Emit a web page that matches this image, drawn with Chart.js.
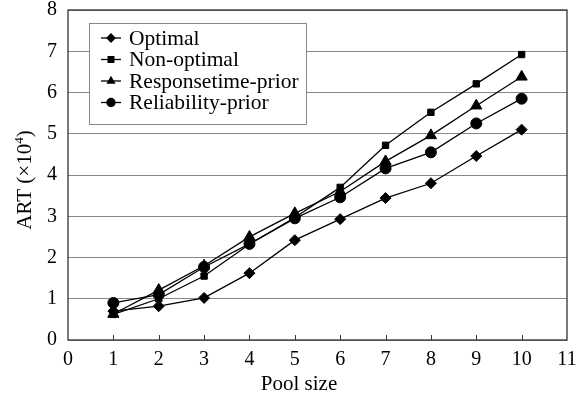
<!DOCTYPE html>
<html>
<head>
<meta charset="utf-8">
<script src="https://cdn.jsdelivr.net/npm/chart.js@4/dist/chart.umd.min.js"></script>
<style>
  html, body { margin: 0; padding: 0; background: #fff; }
  #wrap { width: 578px; height: 398px; }
</style>
</head>
<body>
<div id="wrap"><canvas id="chart"></canvas></div>
<script>
// values (ART in units of 10^4)
const poolSizes = [1, 2, 3, 4, 5, 6, 7, 8, 9, 10];
const optimal = [0.70, 0.82, 1.02, 1.62, 2.42, 2.93, 3.44, 3.80, 4.46, 5.10];
const nonOptimal = [0.62, 1.00, 1.55, 2.32, 2.97, 3.70, 4.72, 5.52, 6.21, 6.92];
const responsePrior = [0.63, 1.21, 1.80, 2.50, 3.07, 3.60, 4.33, 4.96, 5.68, 6.38];
const reliabilityPrior = [0.90, 1.10, 1.77, 2.33, 2.95, 3.46, 4.16, 4.55, 5.25, 5.85];
const seriesNames = ['Optimal', 'Non-optimal', 'Responsetime-prior', 'Reliability-prior'];
const yTicks = [0, 1, 2, 3, 4, 5, 6, 7, 8];

const SERIF = '"Liberation Serif", "DejaVu Serif", serif';

function series(name, values, style, radius) {
    return {
        label: name,
        data: poolSizes.map((x, i) => ({ x: x, y: values[i] })),
        borderColor: '#000',
        backgroundColor: '#000',
        borderWidth: 1.3,
        pointStyle: style,
        pointRadius: radius,
        pointHoverRadius: radius,
        pointBorderWidth: 1,
        tension: 0
    };
}

// frame around the plot, small inside ticks on x, and the two axis titles
const framePlugin = {
    id: 'frame',
    afterDraw(chart) {
        const ctx = chart.ctx, a = chart.chartArea, xs = chart.scales.x;
        ctx.save();
        ctx.strokeStyle = '#333';
        ctx.lineWidth = 1.3;
        ctx.strokeRect(a.left, a.top, a.right - a.left, a.bottom - a.top);
        ctx.lineWidth = 1;
        for (let v = 1; v <= 10; v++) {
            const px = Math.round(xs.getPixelForValue(v)) + 0.5;
            ctx.beginPath();
            ctx.moveTo(px, a.bottom);
            ctx.lineTo(px, a.bottom - 5);
            ctx.stroke();
        }
        // x title
        ctx.fillStyle = '#000';
        ctx.font = '21px ' + SERIF;
        ctx.textAlign = 'center';
        ctx.textBaseline = 'alphabetic';
        ctx.fillText('Pool size', 299, 390);
        // y title with superscript
        ctx.translate(31, 180);
        ctx.rotate(-Math.PI / 2);
        const main = 'ART (\u00d710', sup = '4', end = ')';
        ctx.font = '21px ' + SERIF;
        const w1 = ctx.measureText(main).width, w3 = ctx.measureText(end).width;
        ctx.font = '13px ' + SERIF;
        const w2 = ctx.measureText(sup).width;
        let x0 = -(w1 + w2 + w3) / 2;
        ctx.textAlign = 'left';
        ctx.font = '21px ' + SERIF;
        ctx.fillText(main, x0, 0);
        ctx.font = '13px ' + SERIF;
        ctx.fillText(sup, x0 + w1, -8);
        ctx.font = '21px ' + SERIF;
        ctx.fillText(end, x0 + w1 + w2, 0);
        ctx.restore();
    }
};

// legend box with line + marker, drawn inside the plot
const legendPlugin = {
    id: 'boxLegend',
    afterDraw(chart) {
        const ctx = chart.ctx;
        const bx = 89, by = 23, bw = 217, bh = 101;
        ctx.save();
        ctx.fillStyle = '#fff';
        ctx.fillRect(bx, by, bw, bh);
        ctx.strokeStyle = '#888';
        ctx.lineWidth = 1;
        ctx.strokeRect(bx + 0.5, by + 0.5, bw, bh);
        ctx.font = '21.5px ' + SERIF;
        ctx.textBaseline = 'middle';
        ctx.fillStyle = '#000';
        chart.data.datasets.forEach((ds, i) => {
            const cy = by + 15 + i * 21.5;
            ctx.strokeStyle = '#000';
            ctx.lineWidth = 1.3;
            ctx.beginPath();
            ctx.moveTo(101, cy);
            ctx.lineTo(121, cy);
            ctx.stroke();
            Chart.helpers.drawPoint(ctx, {
                pointStyle: ds.pointStyle, radius: 4, rotation: 0, borderWidth: 1
            }, 111, cy);
            ctx.fillText(ds.label, 129, cy + 1);
        });
        ctx.restore();
    }
};

new Chart(document.getElementById('chart'), {
    type: 'line',
    data: {
        datasets: [
            series(seriesNames[0], optimal, 'rectRot', 5.5),
            series(seriesNames[1], nonOptimal, 'rect', 4.5),
            series(seriesNames[2], responsePrior, 'triangle', 6.5),
            series(seriesNames[3], reliabilityPrior, 'circle', 5.5)
        ]
    },
    options: {
        responsive: true,
        maintainAspectRatio: false,
        animation: false,
        layout: { padding: { top: 10, right: 11, left: 0, bottom: 0 } },
        plugins: { legend: { display: false }, tooltip: { enabled: false } },
        scales: {
            x: {
                type: 'linear',
                min: 0, max: 11,
                ticks: { stepSize: 1, color: '#000', font: { family: SERIF, size: 20 }, padding: 0 },
                grid: { display: false },
                border: { display: false },
                afterFit(scale) {
                    scale.height = 58;
                    scale.paddingLeft = 0;
                    scale.paddingRight = 0;
                }
            },
            y: {
                min: 0, max: 8,
                afterBuildTicks(scale) { scale.ticks = yTicks.map(v => ({ value: v })); },
                ticks: { color: '#000', font: { family: SERIF, size: 20 }, padding: 11 },
                grid: { color: '#888', lineWidth: 1, drawTicks: false },
                border: { display: false },
                afterFit(scale) {
                    scale.width = 68;
                    scale.paddingTop = 0;
                    scale.paddingBottom = 0;
                }
            }
        }
    },
    plugins: [framePlugin, legendPlugin]
});
</script>
</body>
</html>
